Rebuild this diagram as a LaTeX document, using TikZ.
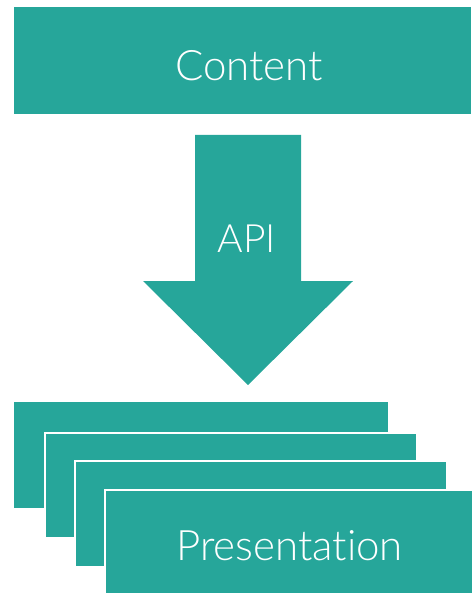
\documentclass[tikz,border=0pt]{standalone}
\usepackage{fontspec}
\setmainfont{Lato}[UprightFont=* Light,Ligatures={NoCommon,NoRare}]
\definecolor{teal}{HTML}{26A69A}
\begin{document}
\begin{tikzpicture}[x=1pt,y=-1pt,
  block/.style={fill=teal,draw=none,inner sep=0pt,outer sep=0pt},
  layer/.style={fill=teal,draw=white,line width=2pt},
  lbl/.style={text=white,font=\fontsize{42}{42}\selectfont,anchor=base,inner sep=0pt}]
\useasboundingbox (0,0) rectangle (471,593);
\fill[teal] (14,7) rectangle (471,114);
\node[lbl] (contentlbl) at (249,81) {Content};
% arrow
\fill[teal] (195,135) -- (301,135) -- (301,281) -- (353,281) -- (248,385) -- (143,281) -- (195,281) -- cycle;
\node[lbl,font=\fontsize{39}{39}\selectfont] (apilbl) at (247,252.5) {API};
% stacked layers
\fill[teal] (14,402) rectangle (388,508);
\draw[layer] (45,432.5) rectangle (417,538);
\draw[layer] (74.5,461) rectangle (447,567);
\draw[layer] (104.5,490) rectangle (473,595);
\node[lbl] (preslbl) at (289.5,560) {Presentation};
\end{tikzpicture}
\end{document}
